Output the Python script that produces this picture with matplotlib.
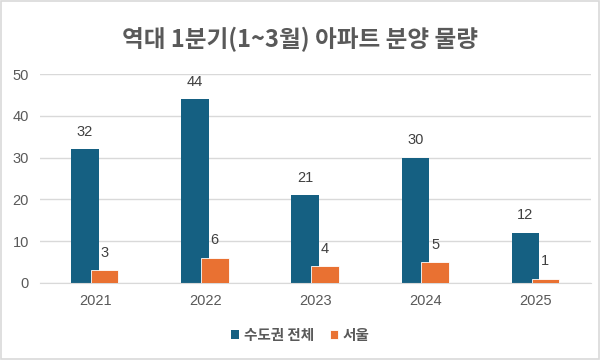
import matplotlib
matplotlib.use("Agg")
import matplotlib.pyplot as plt
import numpy as np
from matplotlib.patches import Rectangle

plt.rcParams['font.family'] = ['Noto Sans CJK KR', 'DejaVu Sans']

years = ["2021", "2022", "2023", "2024", "2025"]
capital_area = [32, 44, 21, 30, 12]
seoul = [3, 6, 4, 5, 1]

blue = "#156082"
orange = "#E97132"
gray = "#595959"

fig = plt.figure(figsize=(6, 3.6), dpi=100)
ax = fig.add_axes([0.067, 0.214, 0.918, 0.58])

x = np.arange(len(years))
w = 0.25
b1 = ax.bar(x - 0.095, capital_area, w, color=blue, label="수도권 전체", zorder=2)
b2 = ax.bar(x + 0.085, seoul, w, color=orange, edgecolor="white", linewidth=0.6,
            label="서울", zorder=3)

for rect, v in zip(b1, capital_area):
    ax.text(rect.get_x() + rect.get_width() / 2, v + 2.5, str(v),
            ha="center", va="bottom", fontsize=10.5, color="#404040",
            family=["Liberation Sans", "DejaVu Sans"])
for rect, v in zip(b2, seoul):
    ax.text(rect.get_x() + rect.get_width() / 2, v + 2.5, str(v),
            ha="center", va="bottom", fontsize=10.5, color="#404040",
            family=["Liberation Sans", "DejaVu Sans"])

ax.set_ylim(0, 50)
ax.set_xlim(-0.5, len(years) - 0.5)
ax.set_yticks(range(0, 51, 10))
ax.set_xticks(x)
ax.set_xticklabels(years)
ax.yaxis.grid(True, color="#D9D9D9", linewidth=1, zorder=0)
ax.set_axisbelow(True)
for s in ["top", "right", "left"]:
    ax.spines[s].set_visible(False)
ax.spines["bottom"].set_color("#D9D9D9")
ax.tick_params(length=0, colors=gray, labelsize=10.5, pad=8)
for lbl in ax.get_xticklabels() + ax.get_yticklabels():
    lbl.set_family(["Liberation Sans", "DejaVu Sans"])

fig.text(0.5, 0.89, "역대 1분기(1~3월) 아파트 분양 물량", ha="center", va="center",
         fontsize=17, fontweight="bold", color=gray)

fig.legend(loc="center", bbox_to_anchor=(0.5, 0.07), ncol=2, frameon=False,
           handlelength=0.55, handleheight=0.55, handletextpad=0.3, columnspacing=1.1,
           prop={"size": 10.5, "weight": "bold"}, labelcolor=gray)

fig.patches.append(Rectangle((0.002, 0.003), 0.996, 0.994, transform=fig.transFigure,
                             fill=False, edgecolor="#D9D9D9", linewidth=1.2))

fig.savefig("out.png", dpi=100)
